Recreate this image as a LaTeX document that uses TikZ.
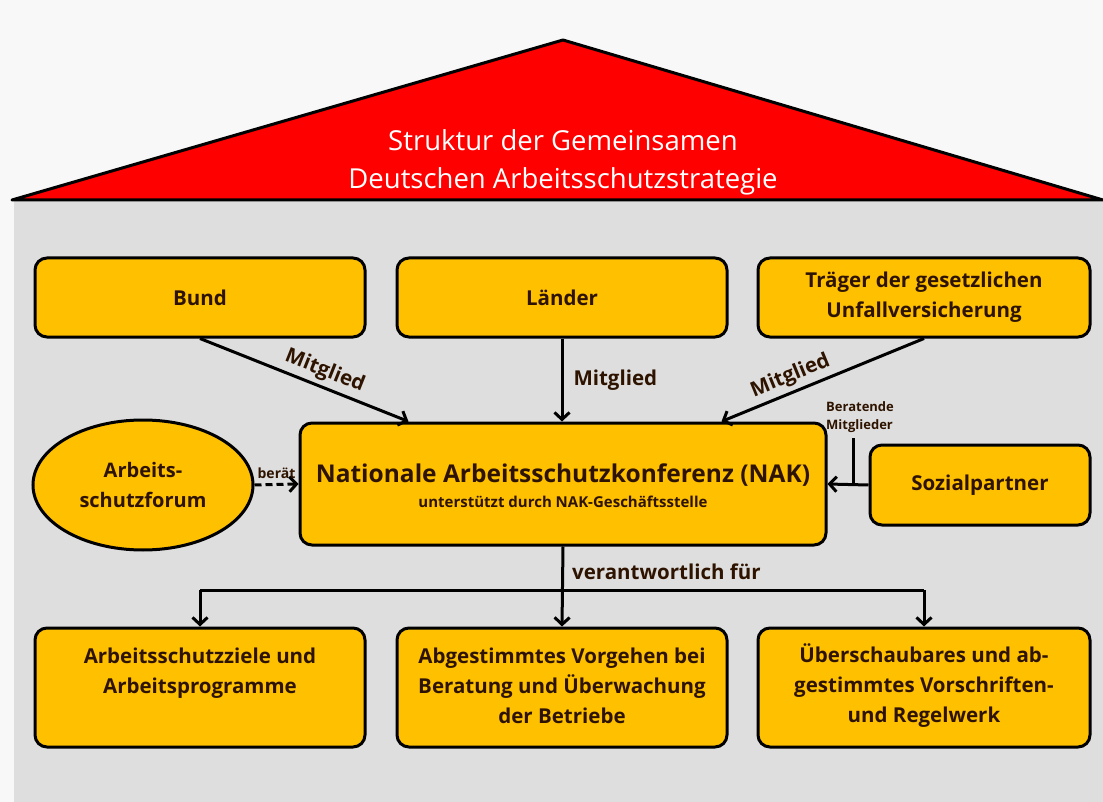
\documentclass[tikz,border=0pt]{standalone}
\usepackage{fontspec}
\setmainfont{Open Sans}
\usetikzlibrary{arrows.meta,shapes.geometric,calc}
\definecolor{boxorange}{HTML}{FFC000}
\definecolor{roofred}{HTML}{FF0000}
\definecolor{wall}{HTML}{DEDEDE}
\definecolor{topbg}{HTML}{F8F8F8}
\definecolor{txt}{HTML}{2E1400}
\begin{document}
\begin{tikzpicture}[x=1pt,y=-1pt,
  box/.style={draw=black, line width=3pt, fill=boxorange, rounded corners=12pt,
    text=txt, font=\bfseries\fontsize{20.5}{30}\selectfont, align=center, inner sep=0pt},
  boxtext/.style={text=txt, font=\bfseries\fontsize{20.5}{30}\selectfont, align=center, inner sep=0pt},
  conn/.style={line width=3pt, draw=black},
  arr/.style={conn, -{Straight Barb[length=7pt,width=15pt,line width=3pt]}},
  lbl/.style={font=\bfseries\fontsize{20.5}{24}\selectfont, text=txt, inner sep=4pt},
  small/.style={font=\bfseries\fontsize{13}{18}\selectfont, text=txt, inner sep=1pt, align=left}]
\useasboundingbox (0,0) rectangle (1103,802);
\fill[topbg] (0,0) rectangle (1103,802);
\fill[wall] (14,201) rectangle (1103,802);
\draw[fill=roofred, line width=3pt, line join=round] (12,200) -- (563,40) -- (1103,200) -- cycle;
\node[text=white, font=\fontsize{27.5}{38}\selectfont, align=center] (title) at (563,162)
  {Struktur der Gemeinsamen\\Deutschen Arbeitsschutzstrategie};

% top row
\node[box, minimum width=330pt, minimum height=79pt] (bund) at (200,297.5) {Bund};
\node[box, minimum width=330pt, minimum height=79pt] (laender) at (562,297.5) {Länder};
\node[box, minimum width=332pt, minimum height=79pt] (traeger) at (924,297.5) {Träger der gesetzlichen\\Unfallversicherung};

% middle row
\node[box, minimum width=526pt, minimum height=122pt] (nak) at (563,484) {};
\node[boxtext, font=\bfseries\fontsize{24.5}{28}\selectfont] (naktitle) at (563,475) {Nationale Arbeitsschutzkonferenz (NAK)};
\node[boxtext, font=\bfseries\fontsize{15}{18}\selectfont] (naksub) at (563,502) {unterstützt durch NAK-Geschäftsstelle};
\node[draw=black, line width=3pt, fill=boxorange, ellipse, minimum width=220pt, minimum height=130pt,
  text=txt, font=\bfseries\fontsize{20}{30}\selectfont, align=center, inner sep=0pt] (forum) at (143,485)
  {Arbeits-\\schutzforum};
\node[box, minimum width=220pt, minimum height=80pt] (sozial) at (980,485) {Sozialpartner};

% bottom row
\node[box, minimum width=330pt, minimum height=119pt] (b1) at (200,687.5) {};
\node[box, minimum width=330pt, minimum height=119pt] (b2) at (562,687.5) {};
\node[box, minimum width=332pt, minimum height=119pt] (b3) at (924,687.5) {};
\node[boxtext, anchor=north] (t1) at (200,648) {Arbeitsschutzziele und\\Arbeitsprogramme};
\node[boxtext, anchor=north] (t2) at (562,648) {Abgestimmtes Vorgehen bei\\Beratung und Überwachung\\der Betriebe};
\node[boxtext, anchor=north] (t3) at (924,643) {Überschaubares und ab-\\gestimmtes Vorschriften-\\und Regelwerk};

% Mitglied arrows
\draw[arr] (bund.south) -- node[lbl, sloped, above, pos=0.57] (m1) {Mitglied} ([xshift=110pt]nak.north west);
\draw[arr] (laender.south) -- node[lbl, right, pos=0.5, xshift=6pt] (m2) {Mitglied} (laender.south |- nak.north);
\draw[arr] (traeger.south) -- node[lbl, sloped, above, pos=0.63] (m3) {Mitglied} ([xshift=-106pt]nak.north east);

% Sozialpartner
\draw[arr] (sozial.west) -- (nak.east);
\coordinate (bm) at (853,438);
\draw[conn] (bm) -- (bm |- sozial.west);
\node[small, anchor=south west] (bmlabel) at (825,434) {Beratende\\Mitglieder};

% Forum
\draw[conn, dash pattern=on 7pt off 4pt, -{Straight Barb[length=7pt,width=15pt,line width=3pt]}]
  (forum.east) -- node[small, font=\bfseries\fontsize{14}{16}\selectfont, above, yshift=3pt] (beraet) {berät} (nak.west);

% responsibility
\coordinate (split) at (563,590);
\draw[arr] (nak.south) -- node[lbl, right, pos=0.32, xshift=4pt] (verant) {verantwortlich für} (b2.north);
\draw[conn] (b1.north |- split) -- (b3.north |- split);
\draw[arr] (b1.north |- split) -- (b1.north);
\draw[arr] (b3.north |- split) -- (b3.north);
\end{tikzpicture}
\end{document}
